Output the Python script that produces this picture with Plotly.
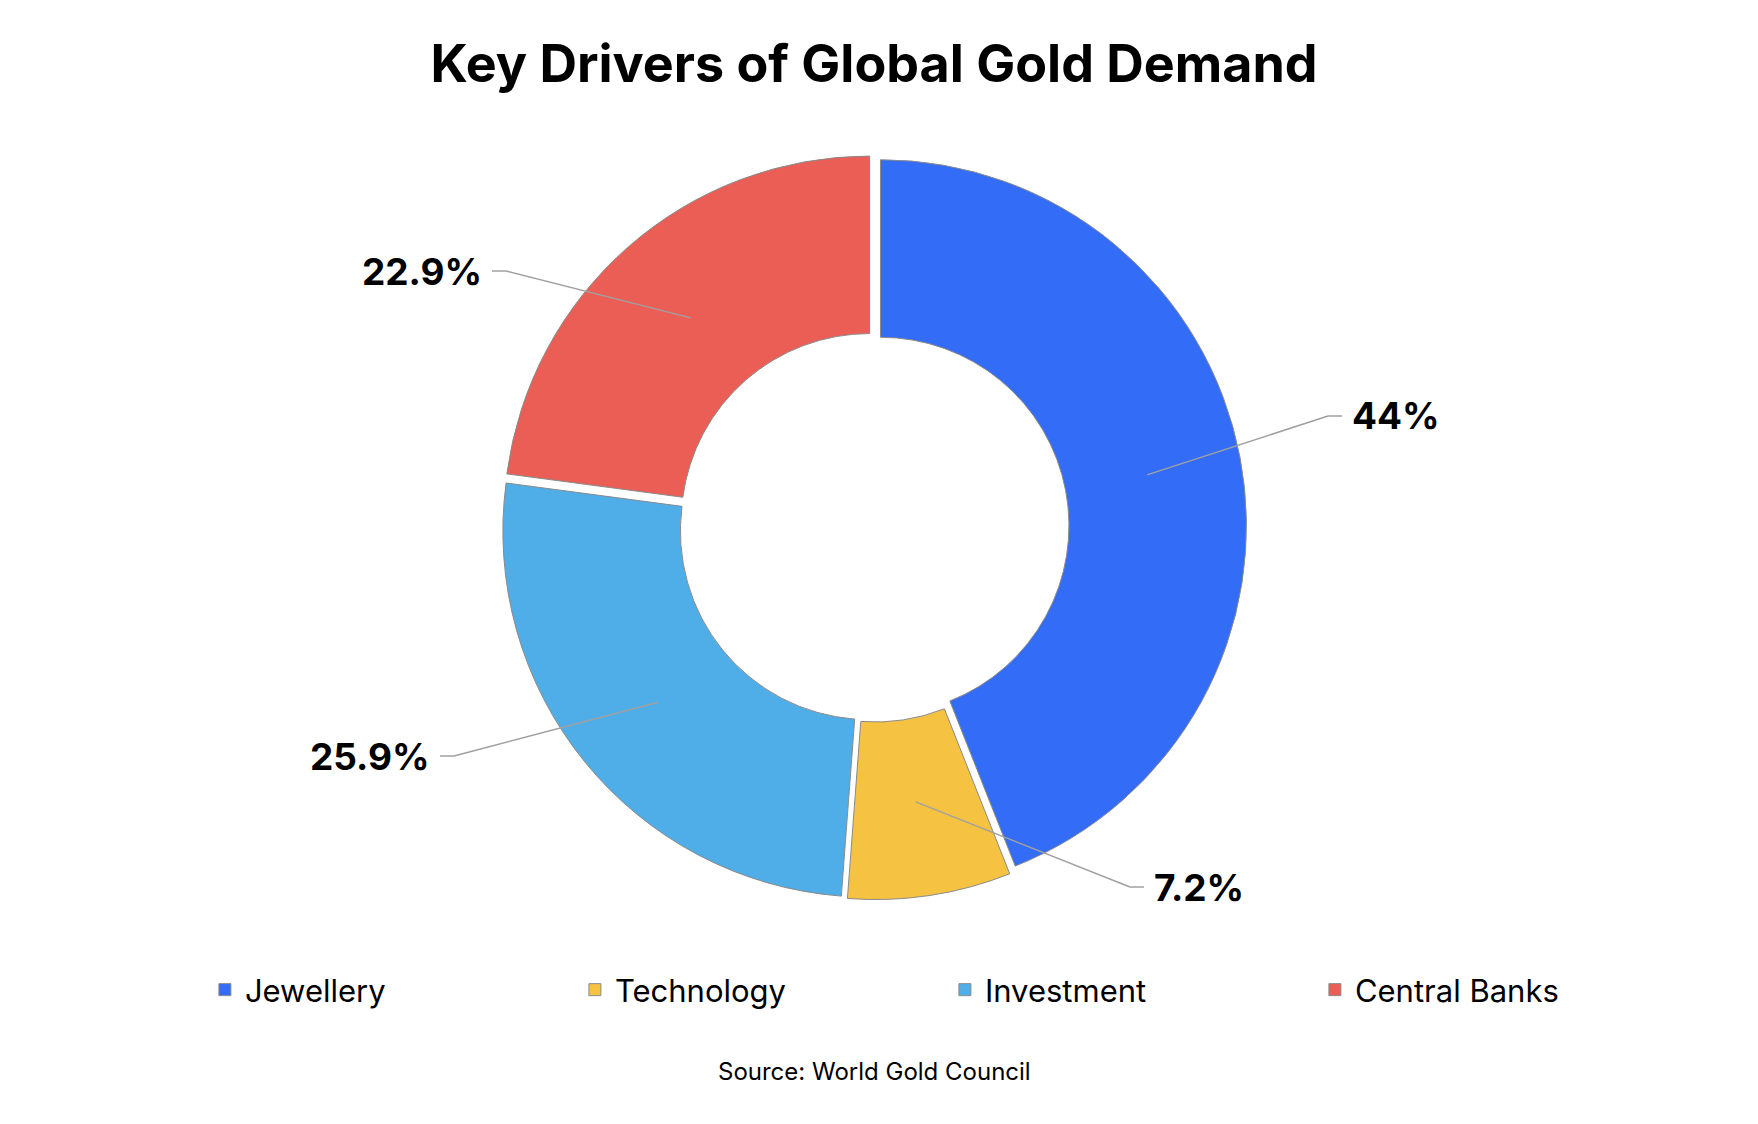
import math
import plotly.graph_objects as go

categories = ["Jewellery", "Technology", "Investment", "Central Banks"]
values = [44.0, 7.2, 25.9, 22.9]
label_texts = ["44%", "7.2%", "25.9%", "22.9%"]
colors = ["#336CF6", "#F5C242", "#4FADE8", "#EB5E55"]

W, H = 1758, 1124
CX, CY = 866, 519          # pie centre (px)
R_OUT = 366
R_MID = 278
# label anchor points (px) and side
LABEL_POS = [(1334, 408, "left"), (1136, 879, "left"), (432, 748, "right"), (484, 263, "right")]

half = R_OUT * 1.018
fig = go.Figure(go.Pie(
    labels=categories, values=values, sort=False, direction="clockwise", rotation=0,
    hole=0.515, pull=0.018, textinfo="none", hoverinfo="label+percent",
    marker=dict(colors=colors, line=dict(color="#8a8a8a", width=1)),
    domain=dict(x=[(CX - half - 20) / W, (CX + half + 20) / W],
                y=[1 - (CY + half) / H, 1 - (CY - half) / H]),
))

def px(x, y):
    return x / W, 1 - y / H

total = sum(values)
cum = 0
shapes, annos = [], []
for v, t, (lx, ly, side) in zip(values, label_texts, LABEL_POS):
    mid = (cum + v / 2) / total * 2 * math.pi
    cum += v
    sx, sy = CX + R_MID * math.sin(mid), CY - R_MID * math.cos(mid)
    ex = lx - 14 if side == "left" else lx + 14
    pts = [(sx, sy), (ex, ly), (lx, ly)]
    for (a, b), (c, d) in zip(pts[:-1], pts[1:]):
        x0, y0 = px(a, b); x1, y1 = px(c, d)
        shapes.append(dict(type="line", xref="paper", yref="paper", x0=x0, y0=y0, x1=x1, y1=y1,
                           line=dict(color="#a0a0a0", width=1.5)))
    ax, ay = px(lx + (8 if side == "left" else -8), ly)
    annos.append(dict(x=ax, y=ay, xref="paper", yref="paper", text=t, showarrow=False,
                      xanchor=side, yanchor="middle",
                      font=dict(family="Inter", size=37, color="#000000", weight="bold")))

annos.append(dict(x=CX / W, y=1 - 1080 / H, xref="paper", yref="paper", text="Source: World Gold Council",
                  showarrow=False, font=dict(family="Inter", size=24, color="#000")))

fig.update_layout(
    width=W, height=H, paper_bgcolor="white", plot_bgcolor="white",
    margin=dict(l=0, r=0, t=0, b=0),
    title=dict(text="<b>Key Drivers of Global Gold Demand</b>", x=CX / W, xanchor="center",
               y=1 - 56 / H, yanchor="middle", font=dict(family="Inter", size=52, color="#000")),
    shapes=shapes, annotations=annos,
    legend=dict(orientation="h", x=0.112, xanchor="left", y=1 - 982 / H, yanchor="middle",
                entrywidth=325, entrywidthmode="pixels", traceorder="normal",
                font=dict(family="Inter", size=31, color="#000")),
)
fig.write_html("out.html")
